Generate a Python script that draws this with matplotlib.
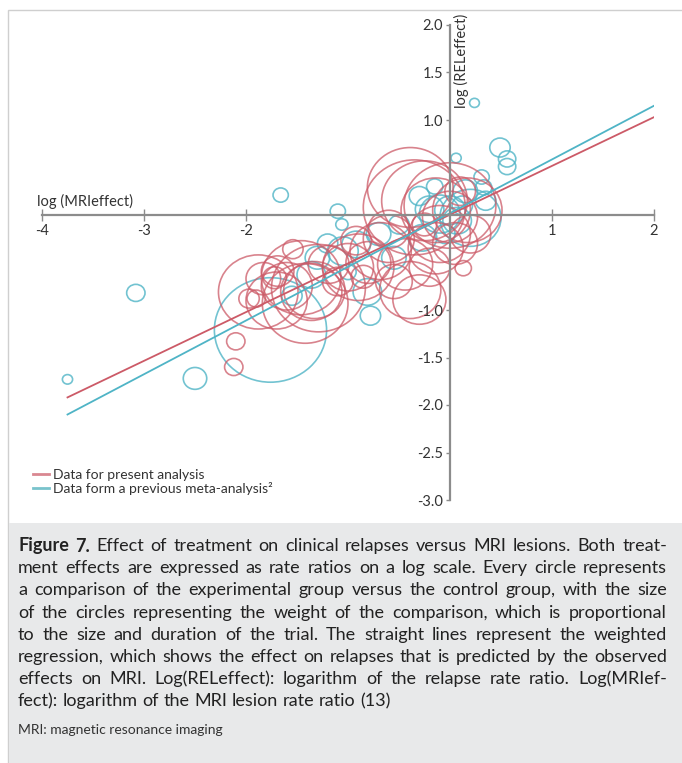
import matplotlib.pyplot as plt
from matplotlib.patches import Circle, Rectangle
from matplotlib.lines import Line2D

plt.rcParams['font.family'] = ['Lato', 'DejaVu Sans']

# circles: (log MRI effect, log relapse effect, radius ~ weight)
red_x = [-2.10, -2.12, -1.90, -1.88, -1.72, -1.54, -1.46, -1.29, -1.69, -1.42, -1.33, -1.19, -1.36,
         -1.83, -1.97, -0.92, -0.68, -0.44, -0.14, 0.13, -0.39, -0.30, -0.39, -0.35, -0.14, 0.00,
         0.17, -0.25, 0.00, -0.60, -0.80, -1.00, -0.20, 0.05, -0.55, -1.60, -1.10, -0.85, 0.10, -0.25,
         -0.90, -0.60, -0.10, 0.20, -1.70]
red_y = [-1.33, -1.60, -0.88, -0.81, -0.66, -0.36, -0.66, -0.77, -0.59, -0.93, -0.79, -0.52, -0.81,
         -0.67, -0.88, -0.27, -0.38, -0.52, -0.35, -0.56, -0.79, -0.89, 0.29, 0.08, 0.05, -0.02,
         0.05, 0.15, 0.10, -0.15, -0.50, -0.55, -0.55, -0.30, -0.70, -0.75, -0.70, -0.65, 0.25, -0.10,
         -0.55, -0.25, -0.20, -0.20, -0.90]
red_r = [0.09, 0.09, 0.09, 0.39, 0.115, 0.10, 0.39, 0.46, 0.16, 0.42, 0.30, 0.20, 0.30,
         0.17, 0.10, 0.15, 0.30, 0.27, 0.27, 0.08, 0.30, 0.26, 0.42, 0.50, 0.34, 0.27,
         0.34, 0.42, 0.45, 0.20, 0.22, 0.25, 0.20, 0.22, 0.18, 0.25, 0.15, 0.12, 0.15, 0.12,
         0.35, 0.25, 0.30, 0.20, 0.30]

blue_x = [-3.75, -3.08, -2.50, -1.76, -1.66, 0.24, 0.06, 0.49, 0.56, 0.56, 0.31, -1.10, -1.06,
          -0.10, -0.20, 0.00, 0.07, 0.20, -0.27, -0.92, -1.05, -0.78, -0.81, -1.36, -0.30, 0.15,
          -0.05, -0.55, -1.20, -1.30, -1.00, 0.35, -0.15, -1.55, -0.50, -0.70, 0.33, 0.12]
blue_y = [-1.73, -0.82, -1.72, -1.21, 0.21, 1.18, 0.60, 0.71, 0.59, 0.51, 0.40, 0.04, -0.10,
          0.01, 0.06, 0.05, -0.06, -0.03, -0.24, -0.31, -0.38, -1.06, -0.81, -0.63, 0.20, 0.25,
          -0.20, -0.45, -0.30, -0.45, -0.60, 0.15, 0.30, -0.85, -0.10, -0.20, 0.29, 0.10]
blue_r = [0.05, 0.09, 0.115, 0.55, 0.075, 0.048, 0.05, 0.10, 0.085, 0.085, 0.075, 0.075, 0.06,
          0.20, 0.14, 0.15, 0.14, 0.30, 0.14, 0.14, 0.15, 0.10, 0.14, 0.14, 0.10, 0.12,
          0.10, 0.12, 0.10, 0.12, 0.08, 0.10, 0.08, 0.10, 0.10, 0.12, 0.08, 0.10]

# weighted regression lines (end points)
line_x = [-3.75, 2.0]
red_line_y = [-1.92, 1.03]
blue_line_y = [-2.10, 1.15]

xticks = [-4, -3, -2, 1, 2]
yticks = [2.0, 1.5, 1.0, -1.0, -1.5, -2.0, -2.5, -3.0]

RED = '#cc5a67'
BLUE = '#4fb4c6'
AXC = '#8c8c8c'

fig = plt.figure(figsize=(6.82, 7.63), dpi=100)

# frame and caption background
fig.patches.append(Rectangle((8 / 682, 0), 1, 1 - 10 / 763, transform=fig.transFigure,
                             facecolor='white', edgecolor='#cfcfcf', lw=1, zorder=-2))
fig.patches.append(Rectangle((9 / 682, 0), 1, 1 - 523 / 763, transform=fig.transFigure,
                             facecolor='#e8e9ea', edgecolor='none', zorder=-1))

ax = fig.add_axes([42 / 682, 1 - 500 / 763, 612 / 682, 475 / 763])
ax.set_zorder(2)
ax.set_facecolor('none')
ax.set_xlim(-4, 2)
ax.set_ylim(-3, 2)

for x, y, r in zip(blue_x, blue_y, blue_r):
    ax.add_patch(Circle((x, y), r, fill=False, edgecolor=BLUE, lw=1.2, alpha=0.8))
for x, y, r in zip(red_x, red_y, red_r):
    ax.add_patch(Circle((x, y), r, fill=False, edgecolor=RED, lw=1.2, alpha=0.75))

ax.plot(line_x, red_line_y, color=RED, lw=1.3)
ax.plot(line_x, blue_line_y, color=BLUE, lw=1.3)

for s in ['top', 'right']:
    ax.spines[s].set_visible(False)
ax.spines['left'].set_position('zero')
ax.spines['bottom'].set_position('zero')
for s in ['left', 'bottom']:
    ax.spines[s].set_color(AXC)
    ax.spines[s].set_linewidth(1.6)

ax.set_xticks(xticks)
ax.set_xticklabels([str(v) for v in xticks])
ax.set_yticks(yticks)
ax.set_yticklabels([f'{v:.1f}' for v in yticks])
ax.tick_params(axis='x', direction='inout', length=9, width=1, color=AXC,
               labelsize=10.5, labelcolor='#333333', pad=2)
ax.tick_params(axis='y', direction='out', length=3, width=1, color=AXC,
               labelsize=10.5, labelcolor='#333333', pad=2)

ax.text(-4.05, 0.06, 'log (MRIeffect)', fontsize=10.5, color='#333333', ha='left', va='bottom')
ax.text(0.04, 2.12, 'log (RELeffect)', fontsize=10.5, color='#333333', rotation=90,
        ha='left', va='top', clip_on=False)

handles = [Line2D([], [], color='#d98791', lw=2), Line2D([], [], color='#79c3cc', lw=2)]
ax.legend(handles, ['Data for present analysis', 'Data form a previous meta-analysis²'],
          loc='lower left', bbox_to_anchor=(-0.015, 0.01), frameon=False, fontsize=10,
          handlelength=1.2, handletextpad=0.25, labelspacing=0.1, borderaxespad=0,
          borderpad=0, labelcolor='#333333')

# caption, justified word by word
cap_lines = [
    'Figure 7. Effect of treatment on clinical relapses versus MRI lesions. Both treat-',
    'ment effects are expressed as rate ratios on a log scale. Every circle represents',
    'a comparison of the experimental group versus the control group, with the size',
    'of the circles representing the weight of the comparison, which is proportional',
    'to the size and duration of the trial. The straight lines represent the weighted',
    'regression, which shows the effect on relapses that is predicted by the observed',
    'effects on MRI. Log(RELeffect): logarithm of the relapse rate ratio. Log(MRIef-',
    'fect): logarithm of the MRI lesion rate ratio (13)',
]
fig.canvas.draw()
rend = fig.canvas.get_renderer()
x0, x1 = 18, 667
fs = 13
W, H = 682, 763


def width(txt, weight='normal', size=fs):
    t = fig.text(0, 0, txt, fontsize=size, fontweight=weight)
    w = t.get_window_extent(rend).width
    t.remove()
    return w


space = width('a a') - width('aa')
for i, line in enumerate(cap_lines):
    words = line.split(' ')
    weights = ['bold' if (i == 0 and j < 2) else 'normal' for j in range(len(words))]
    widths = [width(w, wt) for w, wt in zip(words, weights)]
    last = i == len(cap_lines) - 1
    gap = space if last else (x1 - x0 - sum(widths)) / (len(words) - 1)
    yy = 1 - (546 + i * 22.2) / H
    xx = x0
    for w, wt, ww in zip(words, weights, widths):
        fig.text(xx / W, yy, w, fontsize=fs, fontweight=wt, color='#222222', va='center')
        xx += ww + gap

fig.text(x0 / W, 1 - 730 / H, 'MRI: magnetic resonance imaging', fontsize=10,
         color='#333333', va='center')

fig.savefig('out.png', dpi=100)
